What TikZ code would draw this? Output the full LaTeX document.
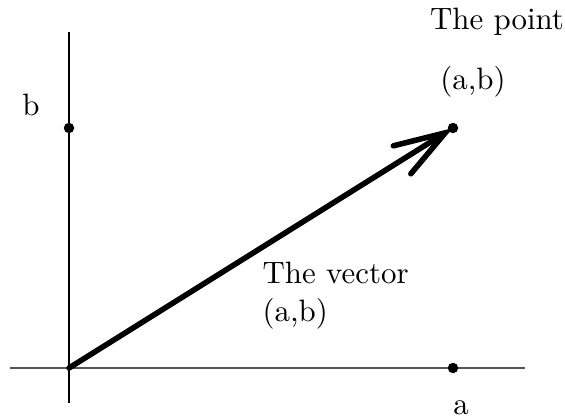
\documentclass[tikz,border=0pt]{standalone}
\usetikzlibrary{arrows.meta}
\begin{document}
\begin{tikzpicture}[x=0.3333pt,y=-0.3333pt,
  font=\fontsize{10.3pt}{12.6pt}\selectfont,
  dotnode/.style={circle,fill=black,inner sep=0pt,minimum size=3.5pt},
  lbl/.style={inner sep=0pt},
  xaxis/.style={draw={rgb,255:red,85;green,85;blue,85},line width=0.67pt},
  yaxis/.style={draw=black,line width=0.45pt},
  vec/.style={line width=1.85pt,line cap=round,
    -{Straight Barb[length=17pt,width=11pt,line cap=round]}}]
\useasboundingbox (0,0) rectangle (565,419);
% axes
\coordinate (xl) at (10,368);
\coordinate (xr) at (525,368);
\coordinate (yt) at (69,32);
\coordinate (yb) at (69,403);
\draw[xaxis] (xl) -- (xr);
\draw[yaxis] (yt) -- (yb);
% points
\coordinate (O) at (69,368);
\node[dotnode] (P) at (453,128) {};
\node[dotnode] (B) at (69,128) {};
\node[dotnode] (A) at (453,368) {};
% vector
\draw[vec] (O) -- (P.center);
% labels
\node[lbl] (tp) at (497,22) {The point};
\node[lbl] (ab) at (473,82) {(a,b)};
\node[lbl] (lb) at (31,105) {b};
\node[lbl] (la) at (461,408) {a};
\node[lbl,anchor=west,align=left] (tv) at (262,296) {The vector\\(a,b)};
\end{tikzpicture}
\end{document}
